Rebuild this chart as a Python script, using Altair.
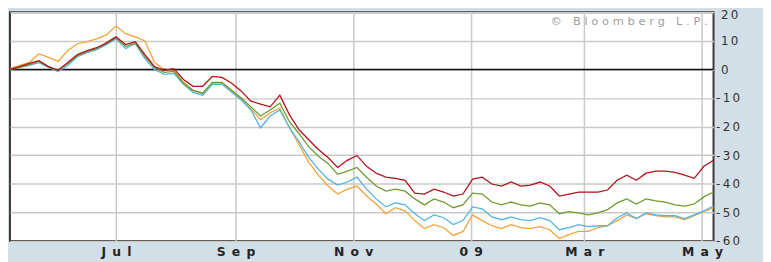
import json
import altair as alt
import pandas as pd

dates = [
    "2008-05-07", "2008-05-12", "2008-05-17", "2008-05-22", "2008-05-27", "2008-06-01",
    "2008-06-06", "2008-06-11", "2008-06-16", "2008-06-21", "2008-06-26", "2008-07-01",
    "2008-07-06", "2008-07-11", "2008-07-16", "2008-07-21", "2008-07-26", "2008-07-31",
    "2008-08-05", "2008-08-10", "2008-08-15", "2008-08-20", "2008-08-25", "2008-08-30",
    "2008-09-04", "2008-09-09", "2008-09-14", "2008-09-19", "2008-09-24", "2008-09-29",
    "2008-10-04", "2008-10-09", "2008-10-14", "2008-10-19", "2008-10-24", "2008-10-29",
    "2008-11-03", "2008-11-08", "2008-11-13", "2008-11-18", "2008-11-23", "2008-11-28",
    "2008-12-03", "2008-12-08", "2008-12-13", "2008-12-18", "2008-12-23", "2008-12-28",
    "2009-01-02", "2009-01-07", "2009-01-12", "2009-01-17", "2009-01-22", "2009-01-27",
    "2009-02-01", "2009-02-06", "2009-02-11", "2009-02-16", "2009-02-21", "2009-02-26",
    "2009-03-03", "2009-03-08", "2009-03-13", "2009-03-18", "2009-03-23", "2009-03-28",
    "2009-04-02", "2009-04-07", "2009-04-12", "2009-04-17", "2009-04-22", "2009-04-27",
    "2009-05-02", "2009-05-07",
]

red = [
    0.0, 1.0, 2.1, 3.1, 1.0, -0.3, 2.4, 5.2, 6.6, 7.6, 9.3, 11.4, 8.7, 9.7, 5.2, 1.0,
    -0.3, 0.3, -3.5, -5.9, -5.9, -2.4, -2.8, -4.8, -7.6, -11.1, -12.1, -13.1, -9.0, -15.9,
    -21.1, -24.6, -28.0, -30.8, -34.3, -31.8, -30.1, -33.9, -36.3, -37.7, -38.1, -38.8,
    -43.3, -43.6, -41.9, -42.9, -44.3, -43.6, -38.4, -37.7, -40.1, -40.8, -39.4, -40.8,
    -40.5, -39.4, -40.8, -44.3, -43.6, -42.9, -42.9, -42.9, -42.2, -38.8, -37.0, -38.8,
    -36.3, -35.6, -35.6, -36.0, -37.0, -38.1, -33.9, -31.8,
]

green = [
    0.0, 0.7, 1.7, 2.8, 1.0, -0.3, 2.1, 4.8, 6.2, 7.3, 9.0, 11.1, 8.0, 9.3, 4.5, 0.7,
    -1.0, -0.7, -4.8, -7.3, -8.3, -4.5, -4.5, -7.3, -10.0, -13.1, -16.3, -14.2, -11.8, -18.3,
    -22.5, -27.0, -30.4, -32.9, -36.7, -35.6, -34.3, -37.7, -40.8, -42.6, -41.9, -42.6,
    -45.3, -47.4, -45.3, -46.4, -48.4, -47.4, -43.3, -43.6, -46.4, -47.4, -46.4, -47.4,
    -47.8, -46.7, -47.4, -50.5, -49.8, -50.2, -50.9, -50.2, -49.1, -46.7, -45.3, -47.1,
    -45.3, -46.0, -46.4, -47.4, -47.8, -47.1, -44.6, -42.9,
]

blue = [
    0.0, 0.7, 1.4, 2.4, 0.7, -0.7, 1.4, 4.5, 5.9, 6.9, 8.7, 10.7, 7.3, 9.0, 3.8, 0.0,
    -1.7, -1.4, -5.2, -8.0, -9.0, -5.2, -5.2, -8.0, -10.7, -14.2, -20.4, -16.3, -14.2, -20.4,
    -25.3, -30.8, -34.9, -38.4, -40.5, -39.4, -37.7, -41.9, -45.3, -48.1, -46.7, -47.4,
    -50.5, -52.9, -50.9, -51.9, -54.3, -52.9, -48.1, -48.8, -51.6, -52.6, -51.6, -52.6,
    -52.9, -51.9, -52.9, -56.1, -55.4, -54.3, -55.0, -54.7, -54.7, -51.9, -50.2, -52.2,
    -50.2, -50.9, -51.2, -51.2, -52.2, -50.9, -49.5, -47.8,
]

orange = [
    0.3, 1.4, 2.4, 5.5, 4.2, 2.8, 6.6, 9.0, 9.7, 10.7, 12.1, 15.2, 12.5, 11.4, 10.0, 2.4,
    0.0, -0.3, -4.5, -7.3, -8.3, -4.8, -4.8, -7.3, -10.4, -13.8, -17.6, -15.2, -13.5, -20.4,
    -26.3, -32.5, -37.0, -40.8, -43.6, -41.9, -40.8, -44.3, -47.1, -50.5, -48.4, -49.5,
    -52.9, -55.7, -54.3, -55.4, -58.1, -56.7, -50.9, -52.9, -54.7, -55.7, -54.3, -55.4,
    -55.7, -55.0, -56.1, -59.2, -57.8, -56.7, -56.7, -55.4, -54.7, -52.9, -50.9, -52.2,
    -50.5, -51.2, -51.6, -51.6, -52.6, -51.2, -49.8, -48.4,
]

# drawing order: bottom to top
series = [("orange", orange, "#f4a23a"), ("blue", blue, "#52b4e2"),
          ("green", green, "#6f9a30"), ("red", red, "#b3121c")]

x_tick_dates = [(2008, 7), (2008, 9), (2008, 11), (2009, 1), (2009, 3), (2009, 5)]
x_tick_labels = ["Jul", "Sep", "Nov", "09", "Mar", "May"]
y_ticks = [20, 10, 0, -10, -20, -30, -40, -50, -60]
credit = "© Bloomberg L.P."

keys = ["%d-%02d" % (y, m) for y, m in x_tick_dates]
x_label_expr = (
    "join(split(" + json.dumps(x_tick_labels) + "[indexof(" + json.dumps(keys)
    + ", utcFormat(datum.value, '%Y-%m'))], ''), '\u2002')"
)
y_label_expr = (
    "join(split(datum.value < 0 ? '-' + abs(datum.value) : '' + datum.value, ''), '\u2009')"
)

x_scale = alt.Scale(
    type="utc",
    domain=[alt.DateTime(year=2008, month=5, date=7, utc=True),
            alt.DateTime(year=2009, month=5, date=7, utc=True)],
)
y_scale = alt.Scale(domain=[-60, 20], nice=False, zero=False)

x_axis = alt.Axis(
    values=[alt.DateTime(year=y, month=m, date=1, utc=True) for y, m in x_tick_dates],
    labelExpr=x_label_expr, title=None, grid=True, domain=False, ticks=False,
    labelFont="DejaVu Sans", labelFontWeight="bold", labelFontSize=12.5,
    labelColor="#222222", labelPadding=5, gridColor="#c9c9c9", gridWidth=1.5,
)
y_axis = alt.Axis(
    orient="right", values=y_ticks, labelExpr=y_label_expr, title=None, grid=True,
    domain=False, ticks=False, labelFont="DejaVu Sans", labelFontSize=12,
    labelColor="#333333", labelAlign="left",
    labelPadding={"condition": {"test": "datum.value < 0", "value": 2}, "value": 7},
    labelOffset={"condition": {"test": "datum.value == 20", "value": 2}, "value": 0},
    gridColor="#c9c9c9", gridWidth=1.5,
)

layers = []
for name, vals, col in series:
    df = pd.DataFrame({"date": dates, "value": vals})
    layer = alt.Chart(df).mark_line(color=col, strokeWidth=1.3, interpolate="linear").encode(
        x=alt.X("date:T", scale=x_scale, axis=x_axis),
        y=alt.Y("value:Q", scale=y_scale, axis=y_axis),
    )
    layers.append(layer)

zero = alt.Chart().mark_rule(color="#111111", strokeWidth=1.5).encode(
    y=alt.Y(datum=0, scale=y_scale, axis=y_axis)
)

note = alt.Chart().mark_text(
    align="right", baseline="middle", font="DejaVu Sans", fontSize=11.5, color="#a0a0a0"
).encode(
    x=alt.value(705), y=alt.value(10), text=alt.value("\u2004".join(credit))
)

chart = alt.layer(layers[0], zero, *layers[1:], note).properties(
    width=711, height=231,
    autosize=alt.AutoSizeParams(type="none"),
    padding={"left": 2, "top": 3, "right": 50, "bottom": 20},
    background="#d3dfe7",
).configure_view(
    fill="white", stroke="#3a3a3a", strokeWidth=2
)

chart.save("out.html", embed_options={"renderer": "svg", "actions": False})
